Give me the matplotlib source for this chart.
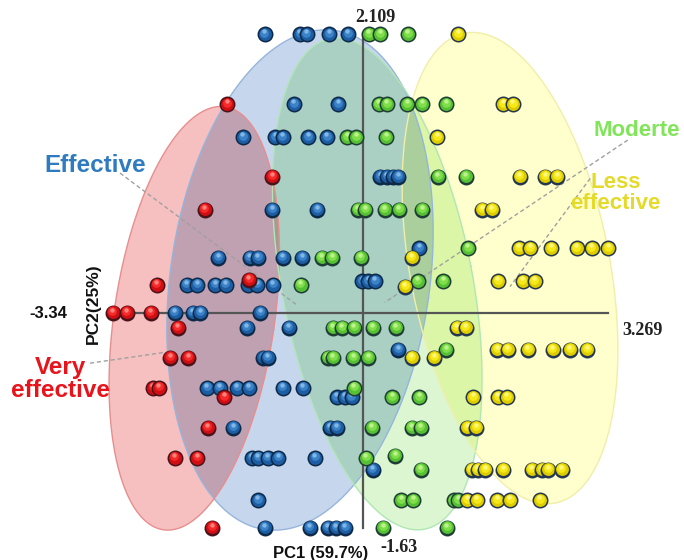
import numpy as np
import matplotlib
matplotlib.use('Agg')
import matplotlib.pyplot as plt
from matplotlib.transforms import offset_copy

# PCA scores (PC1, PC2) for each efficacy class
blue_pc1 = [-1.31, -0.84, -0.75, -0.45, -0.20,
            -0.92, -0.33,
            -1.60, -1.17, -1.07, -0.73, -0.48,
            0.23, 0.32, 0.40, 0.47,
            -1.21, -0.61,
            -1.93, -1.51, -1.40, -1.07, -0.81, 0.75,
            -2.35, -2.21, -1.97, -1.83, -1.53, -1.41, -1.20,
            -0.01, 0.07, 0.16,
            -2.51, -2.27, -2.17, -1.37,
            -1.55, -0.99,
            -1.33, -1.27, 0.47,
            -2.08, -1.91, -1.68, -1.52, -1.07, -0.80,
            -0.35, -0.24, -0.15,
            -1.73, -0.44, -0.35,
            -1.48, -1.40, -1.27, -1.13, -0.64, 0.13,
            -1.40,
            -1.31, -0.71, -0.47, -0.36, -0.24]
blue_pc2 = [2.11, 2.11, 2.11, 2.11, 2.11,
            1.58, 1.58,
            1.33, 1.33, 1.33, 1.33, 1.33,
            1.03, 1.03, 1.03, 1.03,
            0.78, 0.78,
            0.42, 0.42, 0.42, 0.42, 0.42, 0.49,
            0.21, 0.21, 0.21, 0.21, 0.21, 0.21, 0.21,
            0.24, 0.24, 0.24,
            0.0, 0.0, 0.0, 0.0,
            -0.11, -0.11,
            -0.34, -0.34, -0.28,
            -0.57, -0.57, -0.57, -0.57, -0.57, -0.57,
            -0.64, -0.64, -0.64,
            -0.87, -0.87, -0.87,
            -1.10, -1.10, -1.10, -1.10, -1.10, -1.19,
            -1.42,
            -1.63, -1.63, -1.63, -1.63, -1.63]

red_pc1 = [-1.81, -1.21, -2.11, -1.52, -2.75, -3.34, -3.15, -2.83, -2.47,
           -2.57, -2.33, -2.80, -2.72, -1.85, -2.07, -2.51, -2.21, -2.01]
red_pc2 = [1.58, 1.03, 0.78, 0.25, 0.21, 0.0, 0.0, 0.0, -0.11,
           -0.34, -0.34, -0.57, -0.57, -0.64, -0.87, -1.10, -1.10, -1.63]

green_pc1 = [0.08, 0.23, 0.60,
             0.21, 0.32, 0.59, 0.79, 1.11,
             -0.21, -0.09, 0.31,
             1.00, 1.37,
             -0.07, 0.03, 0.29, 0.48, 0.79,
             -0.55, -0.41, -0.03, 1.40,
             -0.83, 0.73, 1.07,
             -0.40, -0.28, -0.12, 0.13, 0.44,
             -0.47, -0.40, -0.13, 0.07, 1.11,
             -0.12, 0.39, 0.75,
             0.12, 0.65, 0.77,
             0.04, 0.43, 0.77,
             0.51, 0.67, 1.21, 1.27,
             0.27, 1.12]
green_pc2 = [2.11, 2.11, 2.11,
             1.58, 1.58, 1.58, 1.58, 1.58,
             1.33, 1.33, 1.33,
             1.03, 1.03,
             0.78, 0.78, 0.78, 0.78, 0.78,
             0.42, 0.42, 0.42, 0.49,
             0.21, 0.24, 0.24,
             -0.11, -0.11, -0.11, -0.11, -0.11,
             -0.34, -0.34, -0.34, -0.34, -0.28,
             -0.57, -0.64, -0.64,
             -0.87, -0.87, -0.87,
             -1.10, -1.08, -1.19,
             -1.42, -1.42, -1.42, -1.42,
             -1.63, -1.63]

yellow_pc1 = [1.27,
              1.87, 2.00,
              0.99,
              2.09, 2.43, 2.59,
              1.59, 1.72,
              0.65, 2.08, 2.23, 2.51, 2.85, 3.05, 3.269,
              0.56, 1.80, 2.13, 2.29,
              1.25, 1.37,
              0.65, 0.95, 1.79, 1.93, 2.20, 2.53, 2.76, 2.99,
              1.47, 1.80, 1.92,
              1.39, 1.51,
              1.45, 1.53, 1.63, 1.87, 2.25, 2.39, 2.47, 2.65,
              1.39, 1.52, 1.79, 1.96, 2.36]
yellow_pc2 = [2.11,
              1.58, 1.58,
              1.33,
              1.03, 1.03, 1.03,
              0.78, 0.78,
              0.42, 0.49, 0.49, 0.49, 0.49, 0.49, 0.49,
              0.20, 0.24, 0.24, 0.24,
              -0.11, -0.11,
              -0.34, -0.34, -0.28, -0.28, -0.28, -0.28, -0.28, -0.28,
              -0.64, -0.64, -0.64,
              -0.87, -0.87,
              -1.19, -1.19, -1.19, -1.19, -1.19, -1.19, -1.19, -1.19,
              -1.42, -1.42, -1.42, -1.42, -1.42]

# class ellipses: centre (PC1, PC2), half axes in PC1 screen units, tilt in degrees
ell_center = {'red': (-2.25, -0.04), 'blue': (-0.84, 0.25),
              'green': (0.19, 0.22), 'yellow': (1.96, 0.34)}
ell_axes = {'red': (1.07, 2.85), 'blue': (1.73, 3.36),
            'green': (1.27, 3.33), 'yellow': (1.33, 3.19)}
ell_tilt = {'red': -8.3, 'blue': -8.0, 'green': 10.9, 'yellow': 10.9}
ell_fill = {'red': (246, 192, 192), 'blue': (198, 215, 237),
            'green': (220, 246, 210), 'yellow': (255, 255, 205)}
ell_edge = {'red': '#e88e8e', 'blue': '#96b5dc', 'green': '#b0e6b4', 'yellow': '#f0eeaa'}

xlim = (-4.84, 4.28)
ylim = (-1.871, 2.371)
W, H = 6.84, 5.6

fig = plt.figure(figsize=(W, H), dpi=100)
ax = fig.add_axes([0, 0, 1, 1])
ax.axis('off')

# PC2 -> PC1 screen scale factor so the ellipses keep their shape on screen
k = (H / (ylim[1] - ylim[0])) / (W / (xlim[1] - xlim[0]))

# multiply-blended ellipse fills, supersampled 2x
ss = 2
nx, ny = int(W * 100 * ss), int(H * 100 * ss)
gx = xlim[0] + (np.arange(nx) + 0.5) / nx * (xlim[1] - xlim[0])
gy = ylim[0] + (np.arange(ny) + 0.5) / ny * (ylim[1] - ylim[0])
X, Y = np.meshgrid(gx, gy)
img = np.ones((ny, nx, 3))
for name in ['blue', 'red', 'green', 'yellow']:
    cx, cy = ell_center[name]
    a, b = ell_axes[name]
    th = np.radians(ell_tilt[name])
    dx = X - cx
    dy = (Y - cy) * k
    u = dx * np.cos(th) + dy * np.sin(th)
    v = -dx * np.sin(th) + dy * np.cos(th)
    inside = (u / a) ** 2 + (v / b) ** 2 <= 1
    img[inside] *= np.array(ell_fill[name]) / 255.0
img = img.reshape(ny // ss, ss, nx // ss, ss, 3).mean(axis=(1, 3))
ax.imshow(img, extent=(xlim[0], xlim[1], ylim[0], ylim[1]), origin='lower',
          aspect='auto', interpolation='bilinear', zorder=0)

t = np.linspace(0, 2 * np.pi, 300)
for name in ['blue', 'red', 'green', 'yellow']:
    cx, cy = ell_center[name]
    a, b = ell_axes[name]
    th = np.radians(ell_tilt[name])
    u, v = a * np.cos(t), b * np.sin(t)
    ex = cx + u * np.cos(th) - v * np.sin(th)
    ey = cy + (u * np.sin(th) + v * np.cos(th)) / k
    ax.plot(ex, ey, color=ell_edge[name], lw=1.0, zorder=1)

# axes through the origin
ax.plot([-3.34, 3.269], [0, 0], color='#555555', lw=1.6, zorder=2)
ax.plot([0, 0], [-1.63, 2.12], color='#555555', lw=1.6, zorder=2)

# shaded balls
lift1 = offset_copy(ax.transData, fig=fig, x=0, y=0.7, units='dots')
lift2 = offset_copy(ax.transData, fig=fig, x=-0.4, y=1.8, units='dots')
lift3 = offset_copy(ax.transData, fig=fig, x=-0.6, y=3.0, units='dots')


def draw_balls(xs, ys, rim, body, mid, shine, z):
    for i, (x, y) in enumerate(zip(xs, ys)):
        zz = z + i * 0.001
        ax.scatter([x], [y], s=132, c=[rim], linewidths=0, zorder=zz)
        ax.scatter([x], [y], s=86, c=[body], linewidths=0, zorder=zz + 0.0002, transform=lift1)
        ax.scatter([x], [y], s=40, c=[mid], linewidths=0, zorder=zz + 0.0004, transform=lift2)
        ax.scatter([x], [y], s=10, c=[shine], linewidths=0, alpha=0.8, zorder=zz + 0.0006,
                   transform=lift3)


draw_balls(blue_pc1, blue_pc2, '#0e2947', '#1d5da3', '#3b82c6', '#93c4ee', 10)
draw_balls(red_pc1, red_pc2, '#4a1219', '#d00e13', '#f42b2b', '#ff9a90', 11)
draw_balls(green_pc1, green_pc2, '#1f3c36', '#55c034', '#80de4a', '#cdf7a0', 12)
draw_balls(yellow_pc1, yellow_pc2, '#243650', '#ddcc00', '#f5e91a', '#fffa96', 13)

# pointer lines from the class labels
dash = dict(color='#a0a0a0', lw=1.0, ls=(0, (3, 2)), zorder=3)
ax.plot([-3.24, -0.88], [1.06, 0.06], **dash)
ax.plot([3.53, 0.29], [1.31, 0.08], **dash)
ax.plot([3.03, 1.96], [1.02, 0.20], **dash)
ax.plot([-3.64, -2.67], [-0.38, -0.30], **dash)

lab = dict(family='Liberation Sans', weight='bold',
           ha='center', va='center', zorder=20, linespacing=1.0)
ax.text(-3.57, 1.12, 'Effective', color='#2e7bbf', fontsize=17.5, **lab)
ax.text(3.65, 1.38, 'Moderte', color='#80e55a', fontsize=16, **lab)
ax.text(3.37, 0.91, 'Less\neffective', color='#e4da2a', fontsize=16, **lab)
ax.text(-4.04, -0.50, 'Very\neffective', color='#e8141b', fontsize=17.5, **lab)

num = dict(family='Liberation Serif', weight='bold', fontsize=13,
           ha='center', va='center', color='#222222', zorder=20)
ax.text(0.16, 2.24, '2.109', **num)
ax.text(3.73, -0.13, '3.269', **num)
ax.text(0.48, -1.78, '-1.63', **num)
ax.text(-4.19, 0.0, '-3.34', family='Liberation Sans', weight='bold', fontsize=12,
        ha='center', va='center', color='#111111', zorder=20)
ax.text(-0.57, -1.82, 'PC1 (59.7%)', family='Liberation Sans', weight='bold', fontsize=12,
        ha='center', va='center', color='#111111', zorder=20)
ax.text(-3.6, 0.07, 'PC2(25%)', family='Liberation Sans', weight='bold', fontsize=12.5,
        ha='center', va='center', rotation=90, color='#111111', zorder=20)

ax.set_xlim(*xlim)
ax.set_ylim(*ylim)
fig.savefig('out.png', dpi=100, facecolor='white')
